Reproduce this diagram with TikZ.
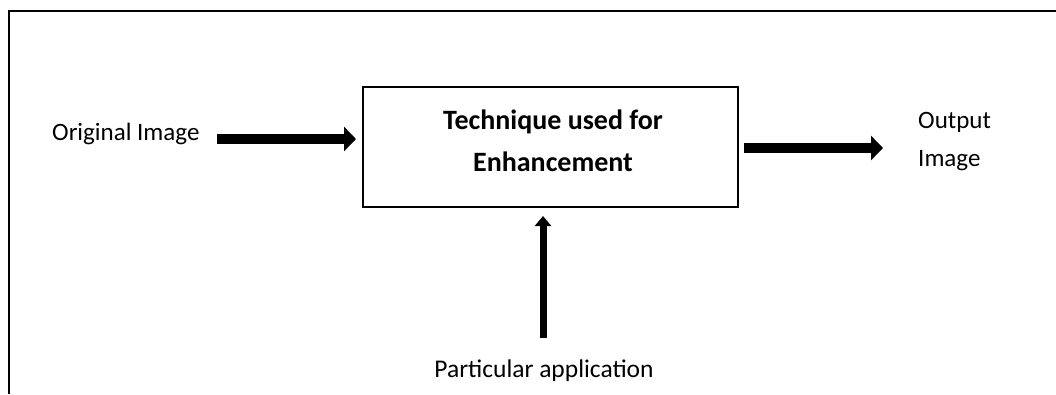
\documentclass[tikz,border=0pt]{standalone}
\usepackage{fontspec}
\setmainfont{Carlito}
\usetikzlibrary{arrows.meta}
\tikzset{
  frameline/.style={line width=2pt},
  blockbox/.style={draw, line width=2pt, minimum width=375pt, minimum height=120pt, inner sep=0pt},
  plaintext/.style={font=\fontsize{25}{38}\selectfont, inner sep=0pt},
  apptext/.style={font=\fontsize{25.5}{38}\selectfont, inner sep=0pt},
  boldtext/.style={font=\fontsize{28}{42}\selectfont\bfseries, inner sep=0pt, align=center},
  fatarrow/.style={line width=10pt, -{Triangle[length=12pt,width=24pt]}},
  thinarrow/.style={line width=7pt, -{Triangle[length=10pt,width=16pt]}}
}
\begin{document}
\begin{tikzpicture}[x=1pt,y=-1pt]
\useasboundingbox (0,0) rectangle (1056,394);
\draw[frameline] (9.3,394) -- (9.3,10.5) -- (1056,10.5);
\node[blockbox] (box) at (550.5,147) {};
\node[boldtext, anchor=base] (title1) at (553,129) {Technique used for};
\node[boldtext, anchor=base] (title2) at (553,171) {Enhancement};
\node[plaintext, anchor=base west] (orig) at (52,140) {Original Image};
\node[plaintext, anchor=base west] (out1) at (918,128) {Output};
\node[plaintext, anchor=base west] (out2) at (918,166) {Image};
\node[apptext, anchor=base] (app) at (544,377) {Particular application};
\coordinate (inL) at (217,139);
\coordinate (outR) at (883,148);
\coordinate (upB) at (543,338);
\draw[fatarrow, shorten >=6pt] (inL) -- (box.west |- inL);
\draw[fatarrow, shorten <=5pt] (box.east |- outR) -- (outR);
\draw[thinarrow, shorten >=8pt] (upB) -- (box.south -| upB);
\end{tikzpicture}
\end{document}
